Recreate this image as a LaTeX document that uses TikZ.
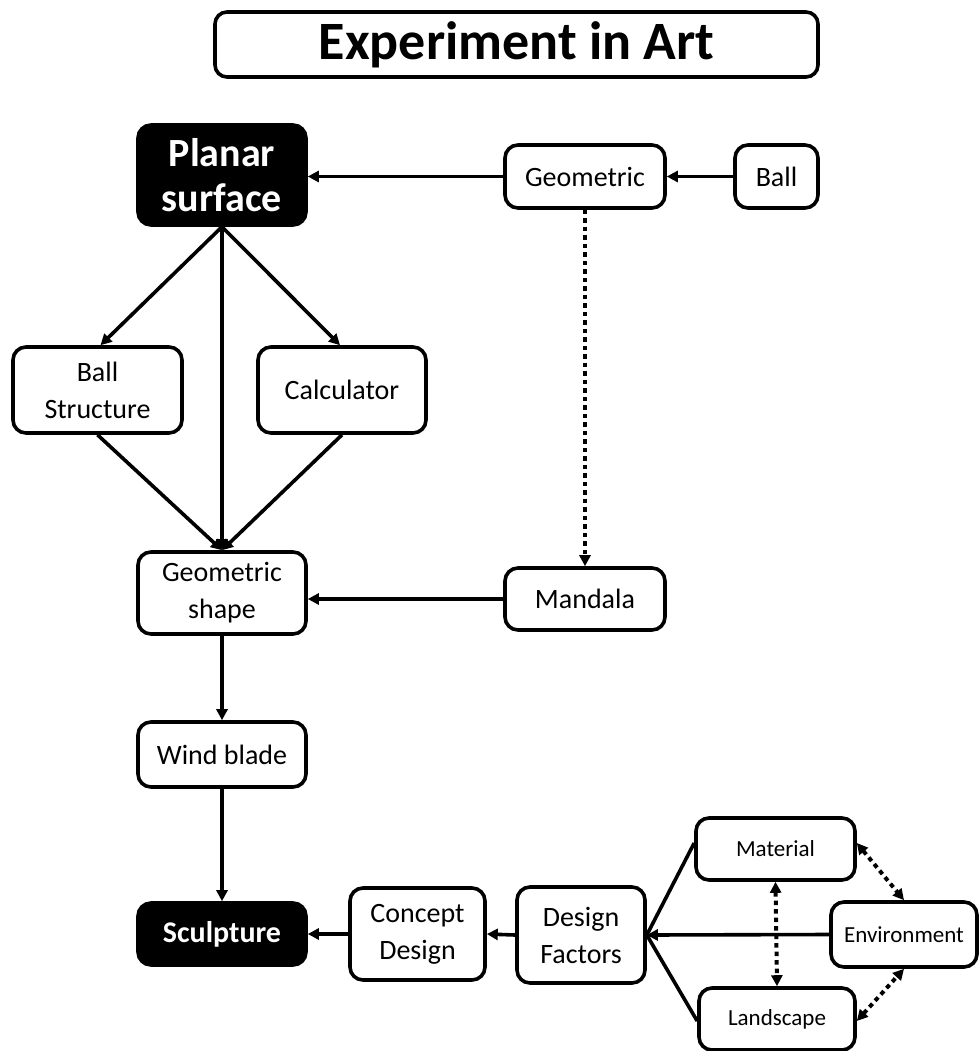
\documentclass[tikz,border=0pt]{standalone}
\usepackage{fontspec}
\setmainfont{Carlito}
\usetikzlibrary{arrows.meta}
\begin{document}
\begin{tikzpicture}[x=1pt,y=-1pt,
  box/.style={draw,line width=3.6pt,rounded corners=13pt,align=center,
    inner sep=0pt,font=\fontsize{28}{37}\selectfont},
  darkbox/.style={box,fill=black,text=white},
  smallbox/.style={box,font=\fontsize{23}{28}\selectfont},
  link/.style={line width=3.6pt,-{Triangle[length=11pt,width=11pt]}},
  plain/.style={line width=3.6pt},
  dotlink/.style={line width=4pt,dash pattern=on 4.5pt off 4pt,
    {Triangle[length=11pt,width=11pt]}-{Triangle[length=11pt,width=11pt]}},
  dotone/.style={line width=4pt,dash pattern=on 4.5pt off 4pt,
    -{Triangle[length=11pt,width=11pt]}}]
\useasboundingbox (0,0) rectangle (979,1051);
\fill[white] (0,0) rectangle (979,1051);

% title
\node[box,minimum width=603pt,minimum height=65pt,rounded corners=12pt,
  font=\fontsize{54}{60}\selectfont\bfseries] (title) at (516.5,44.5) {Experiment in Art};

% upper part
\node[darkbox,minimum width=168pt,minimum height=100pt,
  font=\fontsize{40}{45}\selectfont\bfseries] (planar) at (222,175) {Planar\\surface};
\node[box,minimum width=160pt,minimum height=63pt] (geo) at (585,176.5) {Geometric};
\node[box,minimum width=83pt,minimum height=63pt] (ball) at (776.5,176.5) {Ball};
\node[box,minimum width=169pt,minimum height=86pt] (bstruct) at (97.5,390) {Ball\\Structure};
\node[box,minimum width=168pt,minimum height=86pt] (calc) at (342,390) {Calculator};
\node[box,minimum width=168pt,minimum height=82pt] (gshape) at (222,593) {Geometric\\shape};
\node[box,minimum width=160pt,minimum height=62pt] (mandala) at (585,599) {Mandala};
\node[box,minimum width=168pt,minimum height=65pt] (wind) at (222,754.5) {Wind blade};

% lower part
\node[darkbox,minimum width=168pt,minimum height=62pt,
  font=\fontsize{30}{34}\selectfont\bfseries] (sculpt) at (222,934) {Sculpture};
\node[box,minimum width=135pt,minimum height=92pt] (concept) at (417.5,934) {Concept\\Design};
\node[box,minimum width=128pt,minimum height=96pt] (factors) at (581,935) {Design\\Factors};
\node[smallbox,minimum width=159pt,minimum height=62pt] (material) at (775.5,849) {Material};
\node[smallbox,minimum width=146pt,minimum height=65pt] (env) at (904,934.5) {Environment};
\node[smallbox,minimum width=156pt,minimum height=62pt] (land) at (777,1019) {Landscape};

% connectors, upper part
\draw[link] (ball.west) -- (geo.east);
\draw[link] (geo.west) -- (planar.east |- geo.west);
\draw[link] (planar.south) -- ([xshift=3pt]bstruct.north);
\draw[link] (planar.south) -- ([xshift=-2pt]calc.north);
\draw[link] (planar.south) -- (gshape.north);
\draw[link] (bstruct.south) -- (gshape.north);
\draw[link] (calc.south) -- (gshape.north);
\draw[dotone] (geo.south) -- (mandala.north);
\draw[link] (mandala.west) -- (gshape.east |- mandala.west);
\draw[link] (gshape.south) -- (wind.north);
\draw[link] (wind.south) -- (sculpt.north);

% connectors, lower part
\draw[link] (concept.west) -- (sculpt.east);
\draw[link] (factors.west) -- (concept.east);
\draw[plain] ([yshift=6pt]material.west) -- (factors.east);
\draw[plain] ([yshift=-2pt]land.west) -- (factors.east);
\draw[link] (env.west) -- (factors.east);
\draw[dotlink] (material.south) -- (land.north);
\draw[dotlink] ([yshift=6pt]material.east) -- (env.north);
\draw[dotlink] ([yshift=-2pt]land.east) -- (env.south);
\end{tikzpicture}
\end{document}
